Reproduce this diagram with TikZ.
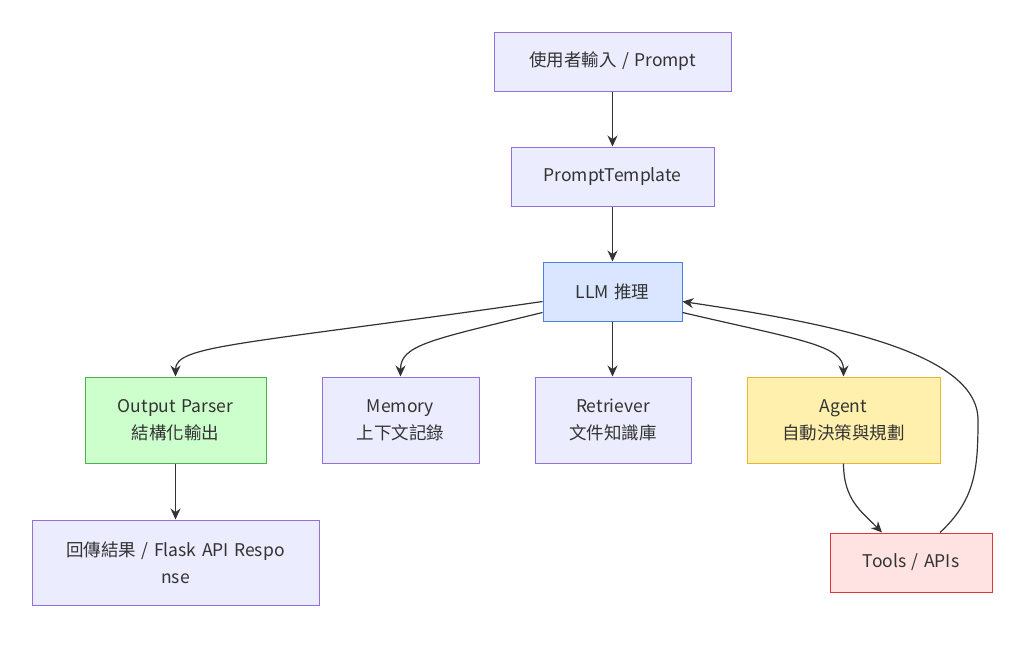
\documentclass[tikz,border=0pt]{standalone}
\usepackage{fontspec}
\setmainfont{Noto Sans CJK TC}[WordSpace=1.4]
\usepackage{tikz}
\usetikzlibrary{arrows.meta,calc,positioning}
\definecolor{boxfill}{HTML}{ECECFF}
\definecolor{boxline}{HTML}{9370DB}
\definecolor{txt}{HTML}{333333}
\definecolor{llmfill}{HTML}{DAE6FF}
\definecolor{llmline}{HTML}{4A80E0}
\definecolor{okfill}{HTML}{CCFFCC}
\definecolor{okline}{HTML}{4CAF50}
\definecolor{agfill}{HTML}{FFF0AD}
\definecolor{agline}{HTML}{EDB42E}
\definecolor{tlfill}{HTML}{FFE2E2}
\definecolor{tlline}{HTML}{E0363A}
\tikzset{
    box/.style={draw=boxline,fill=boxfill,line width=1pt,text=txt,align=center,
        font=\fontsize{17.5}{27}\selectfont,inner sep=0pt},
    flow/.style={draw=txt,line width=1.2pt,-{Stealth[length=11pt,width=10pt]}}
}
\begin{document}
\begin{tikzpicture}[x=1pt,y=-1pt]
                        \useasboundingbox[fill=white] (0,0) rectangle (1024,645);
                        \node[box,minimum width=237pt,minimum height=59pt] (prompt) at (612.5,61.5) {使用者輸入 / Prompt};
                        \node[box,minimum width=203pt,minimum height=59pt] (tmpl) at (612.5,176.5) {PromptTemplate};
                        \node[box,draw=llmline,fill=llmfill,minimum width=139pt,minimum height=59pt] (llm) at (612.5,291.5) {LLM 推理};
                        \node[box,draw=okline,fill=okfill,minimum width=181pt,minimum height=86pt] (parser) at (175.5,420) {Output Parser\\結構化輸出};
                        \node[box,minimum width=157pt,minimum height=86pt] (memory) at (400.5,420) {Memory\\上下文記錄};
                        \node[box,minimum width=156pt,minimum height=86pt] (retriever) at (613,420) {Retriever\\文件知識庫};
                        \node[box,draw=agline,fill=agfill,minimum width=193pt,minimum height=86pt] (agent) at (843.5,420) {Agent\\自動決策與規劃};
                        \node[box,minimum width=287pt,minimum height=85pt] (resp) at (175.5,562.5) {回傳結果 / Flask API Respo\\nse};
                        \node[box,draw=tlline,fill=tlfill,minimum width=162pt,minimum height=59pt] (tools) at (911,562.5) {Tools / APIs};
                        \draw[flow] (prompt) -- (tmpl);
                        \draw[flow] (tmpl) -- (llm);
                        \draw[flow] ($(llm.west)+(0,10)$) .. controls (240,345) and (175.5,345) .. (parser.north);
                        \draw[flow] ($(llm.west)+(0,21)$) .. controls (430,340) and (400.5,345) .. (memory.north);
                        \draw[flow] (llm.south) -- (retriever.north -| llm.south);
                        \draw[flow] ($(llm.east)+(0,21)$) .. controls (800,340) and (843.5,345) .. (agent.north);
                        \draw[flow] (parser) -- (resp);
                        \draw[flow] (agent.south) .. controls (843.5,500) and (862,512) .. ($(tools.north)+(-29,0)$);
                        \draw[flow] ($(tools.north)+(29,0)$) .. controls (975,500) and (978,470) .. (978,420)
                            .. controls (978,350) and (820,322) .. ($(llm.east)+(0,10)$);
                    \end{tikzpicture}
\end{document}
